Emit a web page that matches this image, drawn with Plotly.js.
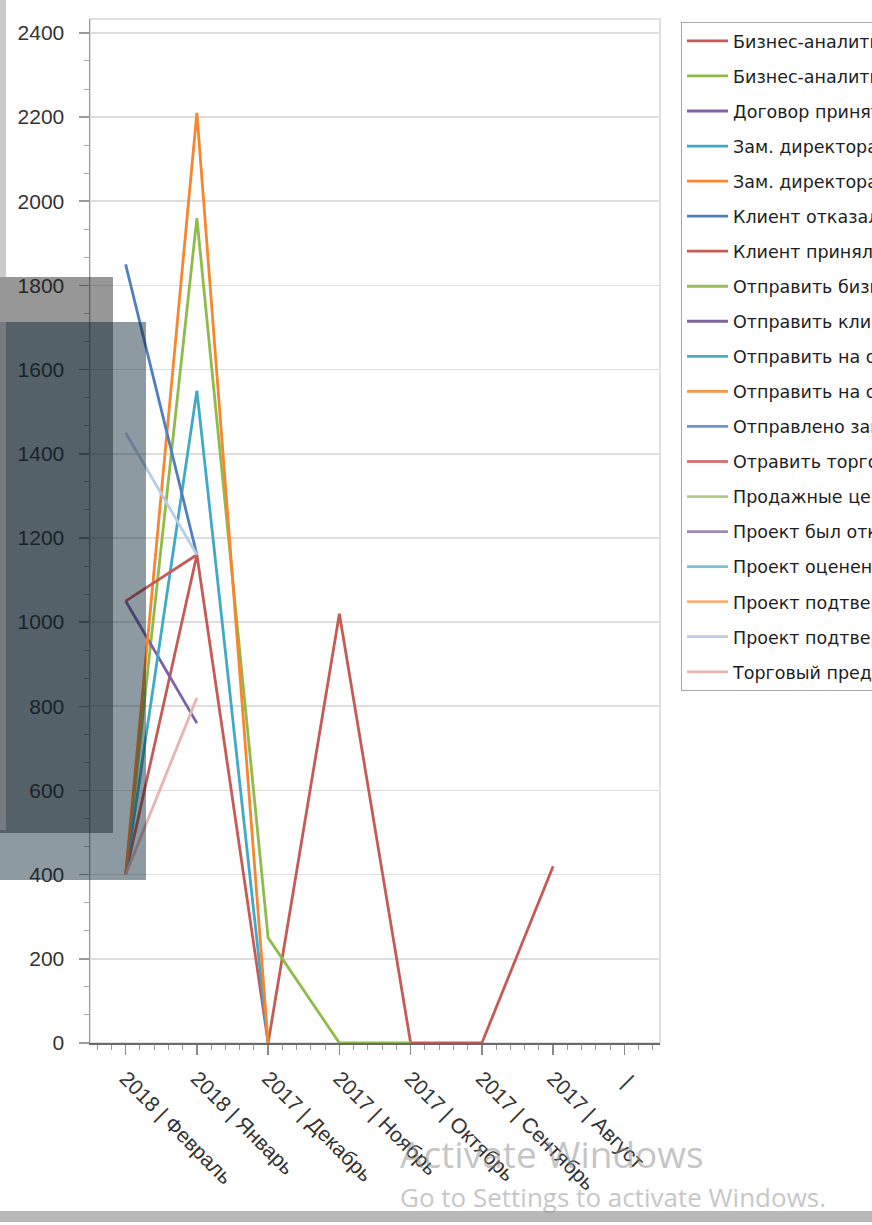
<!DOCTYPE html>
<html>
<head>
<meta charset="utf-8">
<script src="https://cdn.plot.ly/plotly-3.0.1.min.js"></script>
<style>
html,body{margin:0;padding:0;background:#fff;overflow:hidden;}
#chart{width:1100px;height:1225px;}
</style>
</head>
<body>
<div id="chart"></div>
<script>
// ---- data ----
const categories = ["2018 | Февраль","2018 | Январь","2017 | Декабрь","2017 | Ноябрь","2017 | Октябрь","2017 | Сентябрь","2017 | Август"," | "];

const seriesNames = [
  "Бизнес-аналитик оценил проект",
  "Бизнес-аналитик отклонил проект",
  "Договор принят клиентом",
  "Зам. директора одобрил проект",
  "Зам. директора отклонил проект",
  "Клиент отказался",
  "Клиент принял предложение",
  "Отправить бизнес-аналитику",
  "Отправить клиенту",
  "Отправить на оценку",
  "Отправить на согласование",
  "Отправлено заказчику",
  "Отравить торговое предложение",
  "Продажные цены согласованы",
  "Проект был отклонен",
  "Проект оценен",
  "Проект подтвержден",
  "Проект подтвержден клиентом",
  "Торговый представитель"
];

const seriesColors = [
  "#c65a56","#8fbb4a","#7d62a6","#3fa9c6","#f7862f","#4f7fc0",
  "#c65a56","#9bbb59","#8064a2","#4bacc6","#f79646","#6f95cc",
  "#d07b78","#b3cc85","#9d88bd","#7ac2d6","#f9b07a","#b9cde5","#e8b4b3"
];

// values per series, in category order (null = no value)
const s01 = [400, 1160, 0, 1020, 0, 0, 420, null];
const s02 = [400, 1960, 250, 0, 0, null, null, null];
const s03 = [1050, 760, null, null, null, null, null, null];
const s04 = [400, 1550, 0, null, null, null, null, null];
const s05 = [400, 2210, 0, null, null, null, null, null];
const s06 = [1850, 1160, null, null, null, null, null, null];
const s07 = [1050, 1160, null, null, null, null, null, null];
const s08 = [null, null, null, null, null, null, null, null];
const s09 = [null, null, null, null, null, null, null, null];
const s10 = [null, null, null, null, null, null, null, null];
const s11 = [null, null, null, null, null, null, null, null];
const s12 = [null, null, null, null, null, null, null, null];
const s13 = [null, null, null, null, null, null, null, null];
const s14 = [null, null, null, null, null, null, null, null];
const s15 = [null, null, null, null, null, null, null, null];
const s16 = [null, null, null, null, null, null, null, null];
const s17 = [null, null, null, null, null, null, null, null];
const s18 = [1450, 1160, null, null, null, null, null, null];
const s19 = [400, 820, null, null, null, null, null, null];

const seriesValues = [s01,s02,s03,s04,s05,s06,s07,s08,s09,s10,s11,s12,s13,s14,s15,s16,s17,s18,s19];

// ---- chart ----
const W = 1100, H = 1225;
const L = 90, R = 660, T = 19, B = 1043;
const px2x = p => (p - L) / (R - L);
const px2y = p => (B - p) / (B - T);

const xIdx = categories.map((c, i) => i);

const traces = seriesNames.map((name, k) => ({
  type: "scatter",
  mode: "lines",
  name: name,
  legendgroup: "g" + k,
  x: xIdx,
  y: seriesValues[k],
  line: {color: seriesColors[k], width: 2.8},
  connectgaps: false,
  hoverinfo: "x+y+name"
}));

const layout = {
  width: W, height: H,
  margin: {l: L, r: W - R, t: T, b: H - B},
  paper_bgcolor: "#ffffff",
  plot_bgcolor: "#ffffff",
  showlegend: true,
  legend: {
    x: px2x(681), y: px2y(22), xanchor: "left", yanchor: "top",
    bordercolor: "#a8a8a8", borderwidth: 1, bgcolor: "#ffffff",
    font: {family: "DejaVu Sans", size: 17.5, color: "#1e1e1e"},
    itemwidth: 41,
    traceorder: "grouped", tracegroupgap: 9.3
  },
  xaxis: {
    range: [-0.5, 7.5],
    tickmode: "array", tickvals: xIdx, ticktext: categories,
    tickangle: 45,
    ticks: "outside", ticklen: 10, tickcolor: "#8a8a8a", tickwidth: 1.5,
    minor: {dtick: 0.2, tick0: 0, ticks: "outside", ticklen: 5, tickcolor: "#9a9a9a", tickwidth: 1},
    showgrid: false, zeroline: false,
    showline: true, linecolor: "#6a6a6a", linewidth: 2,
    ticklabelstandoff: 3,
    tickfont: {family: "Liberation Sans", size: 21, color: "#333333"}
  },
  yaxis: {
    range: [0, 2433],
    tickmode: "linear", tick0: 0, dtick: 200,
    ticks: "outside", ticklen: 10, tickcolor: "#9a9a9a", tickwidth: 1.5,
    minor: {dtick: 200/3, ticks: "outside", ticklen: 5, tickcolor: "#a8a8a8", tickwidth: 1, showgrid: false},
    showgrid: true, gridcolor: "#dedede", gridwidth: 1.6,
    zeroline: false,
    showline: true, linecolor: "#9a9a9a", linewidth: 1.5,
    ticklabelstandoff: 10,
    tickfont: {family: "Liberation Sans", size: 21, color: "#333333"}
  },
  shapes: [
    {type: "rect", xref: "paper", yref: "paper", x0: 0, x1: 1, y0: 0, y1: 1,
     line: {color: "#d6d6d6", width: 1.5}, fillcolor: "rgba(0,0,0,0)", layer: "below"},
    {type: "rect", xref: "paper", yref: "paper", x0: px2x(0), x1: px2x(113), y0: px2y(833), y1: px2y(277),
     line: {width: 0}, fillcolor: "rgba(25,25,25,0.45)", layer: "above"},
    {type: "rect", xref: "paper", yref: "paper", x0: px2x(0), x1: px2x(146), y0: px2y(880), y1: px2y(322),
     line: {width: 0}, fillcolor: "rgba(4,31,46,0.45)", layer: "above"},
    {type: "rect", xref: "paper", yref: "paper", x0: px2x(0), x1: px2x(6), y0: px2y(830), y1: px2y(0),
     line: {width: 0}, fillcolor: "rgba(150,150,150,0.5)", layer: "above"},
    {type: "rect", xref: "paper", yref: "paper", x0: px2x(0), x1: px2x(872), y0: px2y(1222), y1: px2y(1211),
     line: {width: 0}, fillcolor: "rgba(160,160,160,0.75)", layer: "above"}
  ],
  annotations: [
    {xref: "paper", yref: "paper", x: px2x(398), y: px2y(1153), xanchor: "left", yanchor: "middle",
     text: "Activate Windows", showarrow: false,
     font: {family: "Open Sans", size: 37, color: "rgba(140,140,140,0.5)"}},
    {xref: "paper", yref: "paper", x: px2x(398), y: px2y(1197), xanchor: "left", yanchor: "middle",
     text: "Go to Settings to activate Windows.", showarrow: false,
     font: {family: "Open Sans", size: 26, color: "rgba(140,140,140,0.5)"}}
  ]
};

Plotly.newPlot("chart", traces, layout, {displayModeBar: false, staticPlot: true});
</script>
</body>
</html>
